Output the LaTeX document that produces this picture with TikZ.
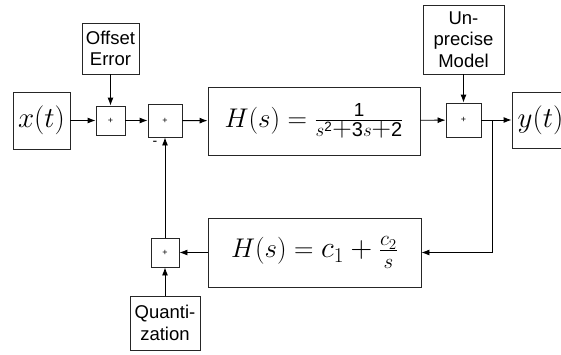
\RequirePackage{fix-cm}
\documentclass[tikz,border=0pt]{standalone}
\usepackage{fontspec}
\setsansfont{Liberation Sans}
\usetikzlibrary{arrows.meta}
\tikzset{
  blk/.style={draw=black!85, line width=0.9pt, inner sep=0pt, align=center},
  txtblk/.style={blk, font=\fontsize{18.5}{21.5}\selectfont\sffamily},
  mathblk/.style={blk, font=\fontsize{29}{32}\selectfont},
  hblk/.style={blk, font=\fontsize{27}{30}\selectfont},
  sumblk/.style={blk, font=\fontsize{9}{10}\selectfont\sffamily},
  conn/.style={line width=0.9pt, -{Latex[length=8pt,width=6pt]}},
}
\newcommand{\bplus}{\mathbin{\hbox{\fontsize{27}{27}\selectfont$+$}}}
\newcommand{\sdig}[1]{\hbox{\fontsize{20}{20}\selectfont\sffamily #1}}
\begin{document}
\begin{tikzpicture}[x=1pt,y=-1pt]
\useasboundingbox (0,0) rectangle (561,354);
\clip (0,0) rectangle (561,354);
\node[mathblk, minimum width=57pt, minimum height=57pt] (x) at (41.5,120.5) {$x(t)$};
\node[sumblk, minimum width=29pt, minimum height=29pt] (s1) at (110.5,120.5) {+};
\node[txtblk, minimum width=57pt, minimum height=51pt] (off) at (110.5,48.5) {Offset\\Error};
\node[sumblk, minimum width=34pt, minimum height=33pt] (s2) at (165,120.5) {+};
\node[hblk, minimum width=212pt, minimum height=68pt] (h1) at (314,121) {$H(s)=\frac{\mathsf{1}}{s^{\mathsf{2}}\bplus\sdig{3}s\bplus\sdig{2}}$};
\node[txtblk, minimum width=81pt, minimum height=69pt] (mod) at (463.5,39.5) {Un-\\precise\\Model};
\node[sumblk, minimum width=35pt, minimum height=34pt] (s3) at (463.5,120) {+};
\node[mathblk, minimum width=57pt, minimum height=56pt] (y) at (540.5,120) {$y(t)$};
\coordinate (br) at (492,120);
\coordinate (bd) at (492,252.5);
\node[hblk, minimum width=213pt, minimum height=69pt] (h2) at (314.5,252.5) {$H(s)=\hbox{\fontsize{30}{30}\selectfont$c_1+\frac{c_2}{s}$}$};
\node[sumblk, minimum width=28pt, minimum height=29pt] (s4) at (165,252.5) {+};
\node[txtblk, minimum width=70pt, minimum height=54pt] (q) at (165,323) {Quanti-\\zation};
\node[font=\fontsize{14}{14}\selectfont\sffamily] (minus) at (155,143) {-};
\draw[conn] (x) -- (s1);
\draw[conn] (off) -- (s1);
\draw[conn] (s1) -- (s2);
\draw[conn] (s2) -- (h1);
\draw[conn] (h1) -- (s3);
\draw[conn] (mod) -- (s3);
\draw[conn] (s3) -- (y);
\draw[conn] (br) -- (bd) -- (h2.east);
\draw[conn] (h2) -- (s4);
\draw[conn] (q) -- (s4);
\draw[conn] (s4) -- (s2);
\end{tikzpicture}
\end{document}
